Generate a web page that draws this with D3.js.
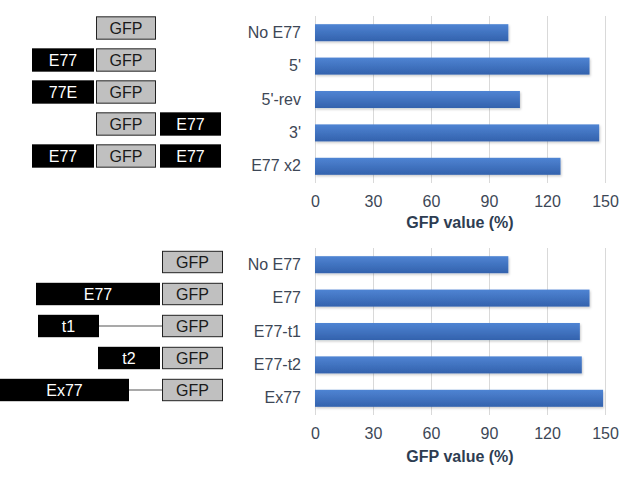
<!DOCTYPE html>
<html><head><meta charset="utf-8">
<script src="https://cdn.jsdelivr.net/npm/d3@7"></script>
<style>
html,body{margin:0;padding:0;background:#fff;}
svg{display:block;font-family:"Liberation Sans",Arial,sans-serif;}
</style></head>
<body>
<svg id="c" width="633" height="482"></svg>
<script>
// ---------- DATA ----------
const topCategories = ["No E77", "5'", "5'-rev", "3'", "E77 x2"];
const topValues = [100, 142, 106, 147, 127];
const bottomCategories = ["No E77", "E77", "E77-t1", "E77-t2", "Ex77"];
const bottomValues = [100, 142, 137, 138, 149];
const tickValues = [0, 30, 60, 90, 120, 150];
const axisTitle = "GFP value (%)";
// top constructs: [upstream element, reporter, downstream element]
const topConstructs = [
  ["", "GFP", ""],
  ["E77", "GFP", ""],
  ["77E", "GFP", ""],
  ["", "GFP", "E77"],
  ["E77", "GFP", "E77"]
];
// bottom constructs: enhancer fragment label and its extent upstream of GFP (schematic units)
const bottomFragLabels = ["", "E77", "t1", "t2", "Ex77"];
const bottomFragStart = [null, -126, -124, -64, -162];
const bottomFragEnd = [null, -2, -63, -2, -33];

// ---------- DRAW ----------
const svg = d3.select("#c");
const defs = svg.append("defs");
const grad = defs.append("linearGradient").attr("id","barGrad").attr("x1",0).attr("y1",0).attr("x2",0).attr("y2",1);
grad.append("stop").attr("offset","0%").attr("stop-color","#4f84d3");
grad.append("stop").attr("offset","100%").attr("stop-color","#3362ad");
const f = defs.append("filter").attr("id","sh").attr("x","-5%").attr("y","-20%").attr("width","115%").attr("height","160%");
f.append("feDropShadow").attr("dx",1).attr("dy",1.5).attr("stdDeviation",1).attr("flood-color","#000").attr("flood-opacity",0.2);

const x = d3.scaleLinear().domain([0, 150]).range([315, 605]);

function barChart(cats, vals, y0, y1, tickY, titleY) {
  const g = svg.append("g");
  const y = d3.scaleBand().domain(cats).range([y0, y1]).paddingInner(0.49).paddingOuter(0.245);
  g.selectAll("line.grid").data(tickValues).join("line")
    .attr("x1", d => x(d) + 0.5).attr("x2", d => x(d) + 0.5)
    .attr("y1", y0).attr("y2", y1)
    .attr("stroke", "#d9d9d9").attr("stroke-width", 1);
  g.selectAll("rect.bar").data(cats).join("rect")
    .attr("x", x(0)).attr("y", d => y(d))
    .attr("width", (d, i) => x(vals[i]) - x(0))
    .attr("height", y.bandwidth())
    .attr("fill", "url(#barGrad)").attr("filter", "url(#sh)");
  const ya = d3.axisLeft(y).tickSize(0).tickPadding(14);
  const yg = g.append("g").attr("transform", `translate(${x(0)},0)`).call(ya);
  yg.select(".domain").remove();
  yg.selectAll("text").attr("font-size", 16).attr("fill", "#3d4756")
    .attr("font-family", "Liberation Sans, Arial, sans-serif");
  const xa = d3.axisBottom(x).tickValues(tickValues).tickSize(0).tickPadding(0);
  const xg = g.append("g").attr("transform", `translate(0,${tickY})`).call(xa);
  xg.select(".domain").remove();
  xg.selectAll("text").attr("font-size", 16).attr("fill", "#3d4756").attr("dy", "0.35em")
    .attr("font-family", "Liberation Sans, Arial, sans-serif");
  g.append("text").attr("x", (x(0) + x(150)) / 2).attr("y", titleY)
    .attr("text-anchor", "middle").attr("dominant-baseline", "central")
    .attr("font-size", 16).attr("font-weight", "bold").attr("fill", "#2e3d52")
    .text(axisTitle);
}
barChart(topCategories, topValues, 16, 183, 201, 222.5);
barChart(bottomCategories, bottomValues, 248, 415, 433.5, 456.5);

// ---------- top construct diagrams ----------
const rowsTop = d3.scaleBand().domain(d3.range(topConstructs.length)).range([12, 172]).paddingInner(0.27).paddingOuter(0.135);
const slotX = [32, 96, 160];
const slotW = [62, 60, 61];
const gt = svg.append("g");
topConstructs.forEach((row, i) => {
  row.forEach((lab, j) => {
    if (!lab) return;
    const isGFP = lab === "GFP";
    const yy = rowsTop(i), h = rowsTop.bandwidth();
    gt.append("rect").attr("x", slotX[j] + (isGFP ? 0.5 : 0)).attr("y", yy + (isGFP ? 0.5 : 0))
      .attr("width", slotW[j] - (isGFP ? 1 : 0)).attr("height", h - (isGFP ? 1 : 0))
      .attr("fill", isGFP ? "#c0c0c0" : "#000").attr("stroke", isGFP ? "#222" : "none");
    gt.append("text").attr("x", slotX[j] + slotW[j] / 2).attr("y", yy + h / 2 + 0.5)
      .attr("text-anchor", "middle").attr("dominant-baseline", "central")
      .attr("font-size", 16).attr("fill", isGFP ? "#1a1a1a" : "#fff").text(lab);
  });
});

// ---------- bottom construct diagrams ----------
const rowsBot = d3.scaleBand().domain(d3.range(bottomFragLabels.length)).range([246, 406]).paddingInner(0.3).paddingOuter(0.15);
const sx = d3.scaleLinear().domain([-162, 0]).range([0, 162]);
const gfpW = 61;
const gb = svg.append("g");
bottomFragLabels.forEach((lab, i) => {
  const yy = rowsBot(i), h = rowsBot.bandwidth();
  if (lab) {
    const a = sx(bottomFragStart[i]), b = sx(bottomFragEnd[i]);
    if (bottomFragEnd[i] < -2) {
      gb.append("line").attr("x1", b).attr("x2", sx(0)).attr("y1", yy + h / 2).attr("y2", yy + h / 2)
        .attr("stroke", "#555").attr("stroke-width", 1.2);
    }
    gb.append("rect").attr("x", a).attr("y", yy).attr("width", b - a).attr("height", h).attr("fill", "#000");
    gb.append("text").attr("x", (a + b) / 2).attr("y", yy + h / 2 + 0.5)
      .attr("text-anchor", "middle").attr("dominant-baseline", "central")
      .attr("font-size", 16).attr("fill", "#fff").text(lab);
  }
  gb.append("rect").attr("x", sx(0) + 0.5).attr("y", yy + 0.5).attr("width", gfpW - 1).attr("height", h - 1)
    .attr("fill", "#c0c0c0").attr("stroke", "#222");
  gb.append("text").attr("x", sx(0) + gfpW / 2).attr("y", yy + h / 2 + 0.5)
    .attr("text-anchor", "middle").attr("dominant-baseline", "central")
    .attr("font-size", 16).attr("fill", "#1a1a1a").text("GFP");
});
</script>
</body></html>
